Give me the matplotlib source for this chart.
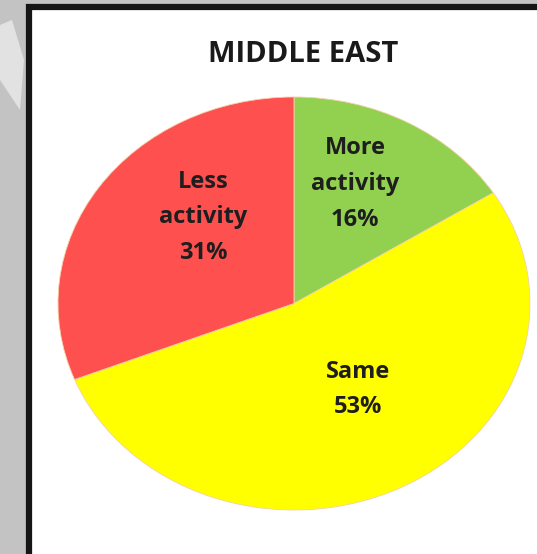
import matplotlib
matplotlib.use("Agg")
import matplotlib.pyplot as plt
from matplotlib.patches import Rectangle, Polygon

# survey answers, Middle East
labels = ["More\nactivity", "Same", "Less\nactivity"]
shares = [16, 53, 31]
colors = ["#92D050", "#FFFF00", "#FF5050"]
title = "MIDDLE EAST"

W, H = 537, 554
fig = plt.figure(figsize=(W / 100, H / 100), dpi=100)
fig.patch.set_facecolor("#c3c3c3")

# white chart area with thick black frame (runs past the right and bottom)
fig.patches.append(Rectangle((29 / W, -0.05), 1.2, (H - 7) / H + 0.05,
                             transform=fig.transFigure, facecolor="white",
                             edgecolor="#151515", linewidth=4.5, zorder=-2))
# faint light stroke on the grey margin
fig.patches.append(Polygon([(0, 1 - 25 / H), (12 / W, 1 - 20 / H),
                            (24 / W, 1 - 60 / H), (20 / W, 1 - 110 / H),
                            (0, 1 - 80 / H)],
                           closed=True, transform=fig.transFigure,
                           facecolor="#e2e2e2", edgecolor="none", zorder=-2))

fig.text(303 / W, 1 - 54 / H, title, ha="center", va="center",
         fontsize=21, fontweight="bold", family="Open Sans", color="#1a1a1a")

ax = fig.add_axes([58 / W, 1 - 510 / H, 472 / W, 413 / H])
ax.patch.set_visible(False)
wedges, _ = ax.pie(shares, colors=colors, startangle=90, counterclock=False,
                   wedgeprops=dict(linewidth=0.6, edgecolor="#f5d0a8"))
ax.set_aspect("auto")
ax.set_xlim(-1, 1)
ax.set_ylim(-1, 1)

# label positions in pie coordinates
label_pos = [(0.258, 0.578), (0.271, -0.417), (-0.386, 0.417)]
for lab, val, (x, y) in zip(labels, shares, label_pos):
    ax.text(x, y, lab + "\n" + str(val) + "%", ha="center", va="center",
            fontsize=17, fontweight="bold", family="Open Sans",
            color="#1e1e1e", linespacing=1.65)

fig.savefig("out.png", dpi=100)
